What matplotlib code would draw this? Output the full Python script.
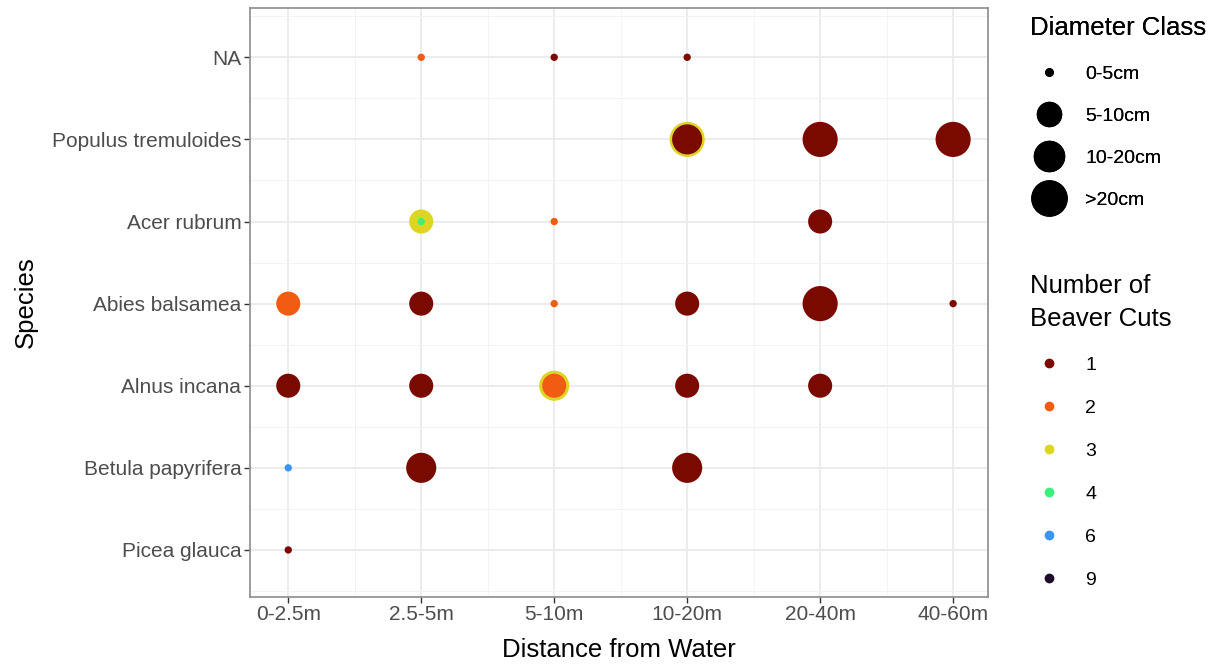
import matplotlib

matplotlib.use('Agg')
import matplotlib.pyplot as plt
from matplotlib.lines import Line2D

plt.rcParams['font.family'] = ['Liberation Sans', 'DejaVu Sans']

distances = ['0-2.5m', '2.5-5m', '5-10m', '10-20m', '20-40m', '40-60m']
species_order = ['Picea glauca', 'Betula papyrifera', 'Alnus incana', 'Abies balsamea',
                 'Acer rubrum', 'Populus tremuloides', 'NA']
diam_classes = ['0-5cm', '5-10cm', '10-20cm', '>20cm']
cut_levels = [1, 2, 3, 4, 6, 9]

# one row per observation (larger overlapping markers listed first)
pt_species = ['NA', 'NA', 'NA',
              'Populus tremuloides', 'Populus tremuloides', 'Populus tremuloides',
              'Populus tremuloides',
              'Acer rubrum', 'Acer rubrum', 'Acer rubrum', 'Acer rubrum',
              'Abies balsamea', 'Abies balsamea', 'Abies balsamea', 'Abies balsamea',
              'Abies balsamea', 'Abies balsamea',
              'Alnus incana', 'Alnus incana', 'Alnus incana', 'Alnus incana',
              'Alnus incana', 'Alnus incana',
              'Betula papyrifera', 'Betula papyrifera', 'Betula papyrifera',
              'Picea glauca']
pt_distance = ['2.5-5m', '5-10m', '10-20m',
               '10-20m', '10-20m', '20-40m', '40-60m',
               '2.5-5m', '2.5-5m', '5-10m', '20-40m',
               '0-2.5m', '2.5-5m', '5-10m', '10-20m', '20-40m', '40-60m',
               '0-2.5m', '2.5-5m', '5-10m', '5-10m', '10-20m', '20-40m',
               '0-2.5m', '2.5-5m', '10-20m',
               '0-2.5m']
pt_diameter = ['0-5cm', '0-5cm', '0-5cm',
               '>20cm', '10-20cm', '>20cm', '>20cm',
               '5-10cm', '0-5cm', '0-5cm', '5-10cm',
               '5-10cm', '5-10cm', '0-5cm', '5-10cm', '>20cm', '0-5cm',
               '5-10cm', '5-10cm', '10-20cm', '5-10cm', '5-10cm', '5-10cm',
               '0-5cm', '10-20cm', '10-20cm',
               '0-5cm']
pt_cuts = [2, 1, 1,
           3, 1, 1, 1,
           3, 4, 2, 1,
           2, 1, 2, 1, 1, 1,
           1, 1, 3, 2, 1, 1,
           6, 1, 1,
           1]

size_map = {'0-5cm': 28, '5-10cm': 300, '10-20cm': 470, '>20cm': 640}
color_map = {1: '#7A0A00', 2: '#F25C12', 3: '#DDD522', 4: '#3DF07C',
             6: '#3A94F2', 9: '#1E0A2A'}

fig = plt.figure(figsize=(12.3, 6.69), dpi=100)
ax = fig.add_axes([0.203, 0.108, 0.600, 0.880])

xs = [distances.index(d) for d in pt_distance]
ys = [species_order.index(s) for s in pt_species]
ax.scatter(xs, ys, s=[size_map[d] for d in pt_diameter],
           c=[color_map[c] for c in pt_cuts], linewidths=0, zorder=3)

ax.set_xticks(range(len(distances)))
ax.set_xticklabels(distances)
ax.set_yticks(range(len(species_order)))
ax.set_yticklabels(species_order)
ax.set_xticks([i + 0.5 for i in range(-1, len(distances))], minor=True)
ax.set_yticks([i + 0.5 for i in range(-1, len(species_order))], minor=True)
ax.set_xlim(-0.29, 5.26)
ax.set_ylim(-0.57, len(species_order) - 1 + 0.6)
ax.grid(which='major', color='#EBEBEB', lw=1.3, zorder=0)
ax.grid(which='minor', color='#F3F3F3', lw=0.7, zorder=0)
ax.tick_params(which='major', direction='out', length=4, width=1, color='#333333',
               labelsize=15, labelcolor='#4D4D4D', pad=2)
ax.tick_params(which='minor', length=0)
for sp in ax.spines.values():
    sp.set_color('#8C8C8C')
    sp.set_linewidth(1.2)
ax.set_axisbelow(True)
ax.set_xlabel('Distance from Water', fontsize=18.5, labelpad=10)
ax.set_ylabel('Species', fontsize=18.5, labelpad=10)

size_handles = [Line2D([], [], ls='', marker='o', color='black',
                       markersize=size_map[d] ** 0.5) for d in diam_classes]
leg1 = fig.legend(size_handles, diam_classes, title='Diameter Class',
                  loc='upper left', bbox_to_anchor=(0.831, 0.987), frameon=False,
                  fontsize=14, title_fontsize=18.5, alignment='left',
                  labelspacing=1.26, handletextpad=0.85, borderaxespad=0)

cut_handles = [Line2D([], [], ls='', marker='o', color=color_map[c], markersize=6)
               for c in cut_levels]
leg2 = fig.legend(cut_handles, [str(c) for c in cut_levels],
                  title='Number of\nBeaver Cuts', loc='upper left',
                  bbox_to_anchor=(0.831, 0.602), frameon=False,
                  fontsize=14, title_fontsize=18.5, alignment='left',
                  labelspacing=1.31, handletextpad=0.85, borderaxespad=0)
leg2.get_title().set_linespacing(1.45)
fig.add_artist(leg1)

fig.savefig('out.png', dpi=100)
